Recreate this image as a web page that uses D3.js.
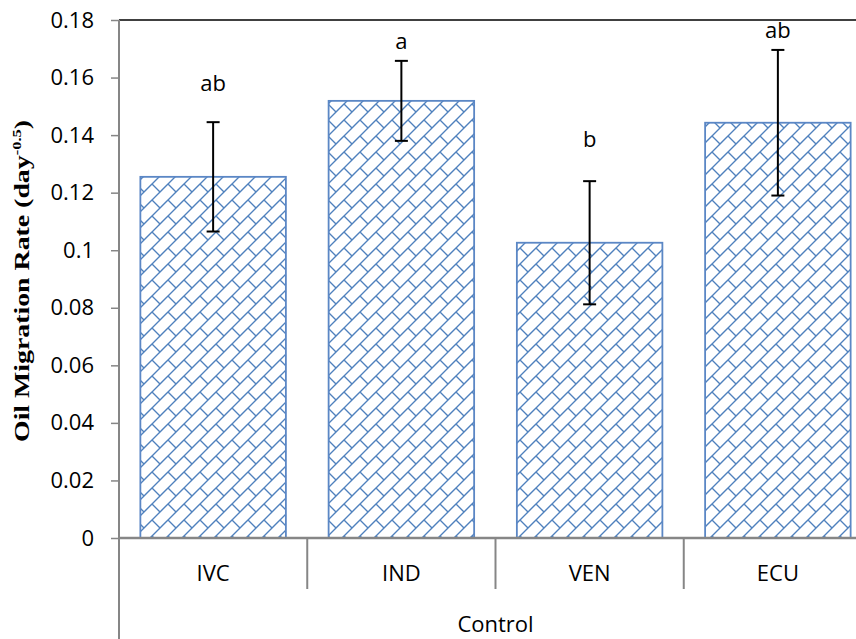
<!DOCTYPE html>
<html>
<head>
<meta charset="utf-8">
<script src="https://cdn.jsdelivr.net/npm/d3@7"></script>
<style>
  body { margin: 0; background: #fff; }
  svg { display: block; }
  text { font-family: "Open Sans", sans-serif; fill: #000; }
</style>
</head>
<body>
<script>
// data
var categories = ["IVC", "IND", "VEN", "ECU"];
var rates      = [0.1255, 0.1519, 0.1026, 0.1443];
var errors     = [0.0190, 0.0139, 0.0214, 0.0253];
var letters    = ["ab", "a", "b", "ab"];
var letterY    = [0.1553, 0.1700, 0.1360, 0.1736]; // where the significance letters sit
var groupLabel = "Control";
var tickValues = [0, 0.02, 0.04, 0.06, 0.08, 0.1, 0.12, 0.14, 0.16, 0.18];
var tickLabels = ["0", "0.02", "0.04", "0.06", "0.08", "0.1", "0.12", "0.14", "0.16", "0.18"];

var W = 856, H = 639;
// note: "top" is taken by window.top, so plot edges get their own names
var plotLeft = 119, plotTop = 20, plotBottom = 538, plotRight = 872; // plot runs past the right edge (cropped)
var blue = "#4F81BD", gray = "#868686";

var svg = d3.select("body").append("svg").attr("width", W).attr("height", H);

// diagonal brick pattern like excel's fill
var P = 16;
var pat = svg.append("defs").append("pattern")
    .attr("id", "brick")
    .attr("patternUnits", "userSpaceOnUse")
    .attr("width", P).attr("height", P);
pat.append("rect").attr("width", P).attr("height", P).attr("fill", "#fff");
pat.append("path")
    .attr("d", "M0," + P + "L" + P + ",0 M" + (P / 2) + "," + (P / 2) + "L" + P + "," + P +
               " M-1,1L1,-1 M" + (P - 1) + "," + (P + 1) + "L" + (P + 1) + "," + (P - 1))
    .attr("stroke", blue).attr("stroke-width", 1.4).attr("fill", "none");

var y = d3.scaleLinear().domain([0, 0.18]).range([plotBottom, plotTop]);

var x = d3.scaleBand()
    .domain(categories)
    .range([plotLeft, plotRight])
    .paddingInner(0.227)
    .paddingOuter(0.1135);

var xCat = d3.scaleBand().domain(categories).range([plotLeft, plotRight]); // for separators

// top border of plot area
svg.append("line")
    .attr("x1", plotLeft).attr("x2", W)
    .attr("y1", plotTop).attr("y2", plotTop)
    .attr("stroke", "#000").attr("stroke-width", 1.5);

// bars
svg.selectAll("rect.bar")
    .data(rates)
    .enter().append("rect")
      .attr("class", "bar")
      .attr("x", function(d, i) { return x(categories[i]); })
      .attr("y", function(d) { return y(d); })
      .attr("width", x.bandwidth())
      .attr("height", function(d) { return y(0) - y(d); })
      .attr("fill", "url(#brick)")
      .attr("stroke", "#5B87C5")
      .attr("stroke-width", 1.8);

// error bars
var eb = svg.selectAll("g.err")
    .data(rates)
    .enter().append("g")
      .attr("class", "err")
      .attr("transform", function(d, i) { return "translate(" + (x(categories[i]) + x.bandwidth() / 2) + ",0)"; });
eb.append("line")
    .attr("y1", function(d, i) { return y(d + errors[i]); })
    .attr("y2", function(d, i) { return y(d - errors[i]); })
    .attr("stroke", "#000").attr("stroke-width", 2);
eb.append("line")
    .attr("x1", -6.5).attr("x2", 6.5)
    .attr("y1", function(d, i) { return y(d + errors[i]); })
    .attr("y2", function(d, i) { return y(d + errors[i]); })
    .attr("stroke", "#000").attr("stroke-width", 2);
eb.append("line")
    .attr("x1", -6.5).attr("x2", 6.5)
    .attr("y1", function(d, i) { return y(d - errors[i]); })
    .attr("y2", function(d, i) { return y(d - errors[i]); })
    .attr("stroke", "#000").attr("stroke-width", 2);

// significance letters
svg.selectAll("text.letter")
    .data(letters)
    .enter().append("text")
      .attr("class", "letter")
      .attr("x", function(d, i) { return x(categories[i]) + x.bandwidth() / 2; })
      .attr("y", function(d, i) { return y(letterY[i]); })
      .attr("text-anchor", "middle")
      .attr("font-size", 22)
      .text(function(d) { return d; });

// y axis
var yAxis = d3.axisLeft(y)
    .tickValues(tickValues)
    .tickFormat(function(d, i) { return tickLabels[i]; })
    .tickSize(8)
    .tickPadding(17);

var gy = svg.append("g")
    .attr("transform", "translate(" + plotLeft + ",0)")
    .call(yAxis);
gy.select(".domain").remove();
gy.selectAll(".tick line").attr("stroke", gray).attr("stroke-width", 1.5);
gy.selectAll(".tick text")
    .attr("font-family", "Open Sans, sans-serif")
    .attr("font-size", 22)
    .attr("fill", "#000");

// y axis line runs down through the category rows
svg.append("line")
    .attr("x1", plotLeft).attr("x2", plotLeft)
    .attr("y1", plotTop).attr("y2", H)
    .attr("stroke", gray).attr("stroke-width", 2);

// x axis line
svg.append("line")
    .attr("x1", plotLeft).attr("x2", W)
    .attr("y1", plotBottom).attr("y2", plotBottom)
    .attr("stroke", gray).attr("stroke-width", 2.5);

// separators between categories
svg.selectAll("line.sep")
    .data(categories.slice(1))
    .enter().append("line")
      .attr("class", "sep")
      .attr("x1", function(d) { return xCat(d); })
      .attr("x2", function(d) { return xCat(d); })
      .attr("y1", plotBottom).attr("y2", plotBottom + 51)
      .attr("stroke", gray).attr("stroke-width", 2);

// category labels
svg.selectAll("text.cat")
    .data(categories)
    .enter().append("text")
      .attr("class", "cat")
      .attr("x", function(d) { return xCat(d) + xCat.bandwidth() / 2; })
      .attr("y", 581)
      .attr("text-anchor", "middle")
      .attr("font-size", 22)
      .text(function(d) { return d; });

// group label
svg.append("text")
    .attr("x", (plotLeft + plotRight) / 2)
    .attr("y", 632)
    .attr("text-anchor", "middle")
    .attr("font-size", 22)
    .text(groupLabel);

// y title, times bold with superscript
var title = svg.append("text")
    .attr("transform", "translate(29," + ((plotTop + plotBottom) / 2 + 2) + ") rotate(-90)")
    .attr("text-anchor", "middle")
    .style("font-family", "'Liberation Serif', 'Times New Roman', serif")
    .style("font-weight", "bold")
    .attr("font-size", 22)
    .attr("textLength", 322)
    .attr("lengthAdjust", "spacingAndGlyphs");
title.append("tspan").text("Oil Migration Rate (day");
title.append("tspan").attr("font-size", 13).attr("dy", -8).text("-0.5");
title.append("tspan").attr("dy", 8).text(")");
</script>
</body>
</html>
